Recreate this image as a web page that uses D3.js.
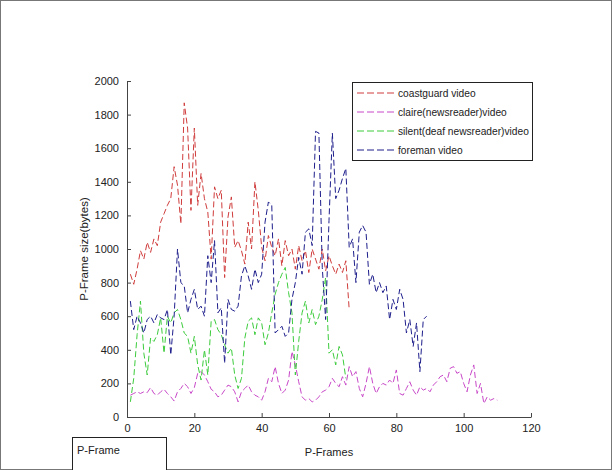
<!DOCTYPE html>
<html>
<head>
<meta charset="utf-8">
<script src="https://cdn.jsdelivr.net/npm/d3@7"></script>
<style>
  body { margin: 0; background: #fff; }
  svg { display: block; }
  text { font-family: "Liberation Sans", Arial, sans-serif; }
</style>
</head>
<body>
<svg id="chart" width="612" height="470"></svg>
<script>
// ---- data ----
const coastguard = [850,790,880,990,940,1040,980,1060,1020,1160,1210,1260,1300,1490,1380,1150,1870,1720,1230,1720,1260,1450,1300,1220,940,1370,1300,1350,830,1190,1310,1010,1050,990,910,1160,1000,1400,1230,1010,930,1080,1010,960,1060,900,1050,960,1000,880,1020,930,990,860,1000,940,880,1000,870,960,900,850,910,860,930,640];
const claire = [130,140,150,140,150,145,175,140,130,150,165,140,120,95,150,170,200,180,140,175,260,270,250,210,165,150,120,130,160,190,180,150,90,150,170,190,150,130,120,100,150,230,210,300,200,140,160,220,390,310,210,120,100,110,90,100,120,150,160,180,230,200,180,240,190,300,240,270,170,120,200,300,200,140,180,200,190,220,200,280,140,130,170,210,160,130,180,160,170,150,190,210,240,250,210,290,300,260,270,200,150,250,310,140,200,80,120,100,110,100];
const silent = [90,230,490,690,380,250,470,450,490,590,380,600,560,620,640,580,500,480,380,480,310,220,400,250,570,580,520,490,430,380,410,250,170,230,470,570,590,490,590,560,430,500,620,730,800,850,890,740,620,250,450,620,690,560,640,550,600,700,830,380,400,310,420,370,230];
const foreman = [690,520,600,560,500,580,600,560,610,590,580,640,370,600,1000,800,780,620,700,760,640,660,600,960,800,1050,620,650,320,700,640,630,660,840,900,840,760,880,800,850,1160,1280,1260,500,520,540,480,500,700,800,950,850,1100,1120,1020,1700,1690,890,580,1170,1690,1300,1350,1420,1480,1010,1060,800,1100,1140,1100,790,850,740,800,740,780,580,700,640,760,700,500,580,420,560,270,580,600];

const seriesNames = ["coastguard video","claire(newsreader)video","silent(deaf newsreader)video","foreman video"];
const seriesColors = ["#d03c3c","#c848c8","#3ccc3c","#1e1e8c"];
const seriesData = [coastguard, claire, silent, foreman];

const xTicks = [0,20,40,60,80,100,120];
const yTicks = [0,200,400,600,800,1000,1200,1400,1600,1800,2000];

// ---- drawing ----
const svg = d3.select("#chart");
svg.append("rect").attr("x",0.5).attr("y",0.5).attr("width",611).attr("height",469)
  .attr("fill","#fff").attr("stroke","#777");

const x = d3.scaleLinear().domain([0,120]).range([127,531]);
const y = d3.scaleLinear().domain([0,2000]).range([417,81]);

const axisColor = "#444";

// series
const line = d3.line().x((d,i)=>x(i+1)).y(d=>y(d));
seriesData.forEach((s,k)=>{
  svg.append("path").datum(s).attr("d",line)
    .attr("fill","none").attr("stroke",seriesColors[k])
    .attr("stroke-width",1).attr("stroke-dasharray","6,3");
});

// axes (ticks inward, MATLAB style)
const fmt = d3.format("d");
const xAxis = d3.axisBottom(x).tickValues(xTicks).tickFormat(fmt).tickSizeInner(-4).tickSizeOuter(0).tickPadding(9);
const gx = svg.append("g").attr("transform","translate(0,417)").call(xAxis);
const yAxis = d3.axisLeft(y).tickValues(yTicks).tickFormat(fmt).tickSizeInner(-4).tickSizeOuter(0).tickPadding(8);
const gy = svg.append("g").attr("transform","translate(127,0)").call(yAxis);
[gx,gy].forEach(g=>{
  g.select(".domain").attr("stroke",axisColor);
  g.selectAll(".tick line").attr("stroke",axisColor);
  g.selectAll(".tick text").attr("fill","#222").style("font-size","11px")
    .style("font-family","'Liberation Sans', Arial, sans-serif");
});
gx.selectAll(".tick text").attr("dy","0.55em");

// axis labels
svg.append("text").attr("x",329).attr("y",456).attr("text-anchor","middle")
  .attr("fill","#222").style("font-size","11px").text("P-Frames");
svg.append("text").attr("transform","translate(88,249) rotate(-90)").attr("text-anchor","middle")
  .attr("fill","#222").style("font-size","11.5px").text("P-Frame size(bytes)");

// legend
const lg = svg.append("g");
lg.append("rect").attr("x",352.5).attr("y",82.5).attr("width",180).attr("height",78)
  .attr("fill","#fff").attr("stroke","#222");
seriesNames.forEach((n,k)=>{
  const yy = 93 + k*19;
  lg.append("line").attr("x1",357).attr("x2",396).attr("y1",yy).attr("y2",yy)
    .attr("stroke",seriesColors[k]).attr("stroke-dasharray","7,3");
  lg.append("text").attr("x",398).attr("y",yy+4).attr("fill","#222")
    .style("font-size","10.2px").text(n);
});

// bottom-left box
svg.append("rect").attr("x",72.5).attr("y",437.5).attr("width",94).attr("height",40)
  .attr("fill","#fff").attr("stroke","#222");
svg.append("text").attr("x",77).attr("y",454).attr("fill","#222")
  .style("font-size","11px").text("P-Frame");
</script>
</body>
</html>
